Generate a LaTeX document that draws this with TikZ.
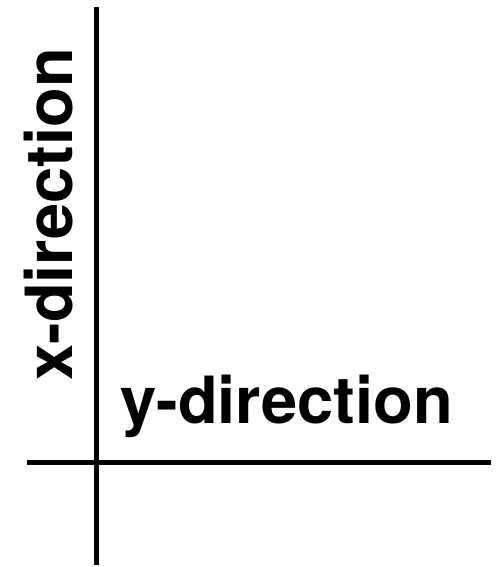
\documentclass[tikz,border=0pt]{standalone}
\usepackage{fontspec}
\setmainfont{TeX Gyre Heros}
\usetikzlibrary{positioning}
\tikzset{
    axisline/.style={line width=3.8pt, black},
    dirlabel/.style={font=\fontsize{48.8}{48.8}\selectfont\bfseries, inner sep=0pt}
}
\begin{document}
\begin{tikzpicture}[x=0.75pt, y=-0.75pt]
    \useasboundingbox (0,0) rectangle (498,567);
    \coordinate (vtop) at (96.7,6.7);
    \coordinate (vbot) at (96.7,565);
    \coordinate (hleft) at (27,462.5);
    \coordinate (hright) at (491,462.5);
    \draw[axisline] (vtop) -- (vbot);
    \draw[axisline] (hleft) -- (hright);
    \node[dirlabel, rotate=90, anchor=base west] (xdir) at (72,381) {x-direction};
    \node[dirlabel, anchor=base west] (ydir) at (120,423) {y-direction};
\end{tikzpicture}
\end{document}
